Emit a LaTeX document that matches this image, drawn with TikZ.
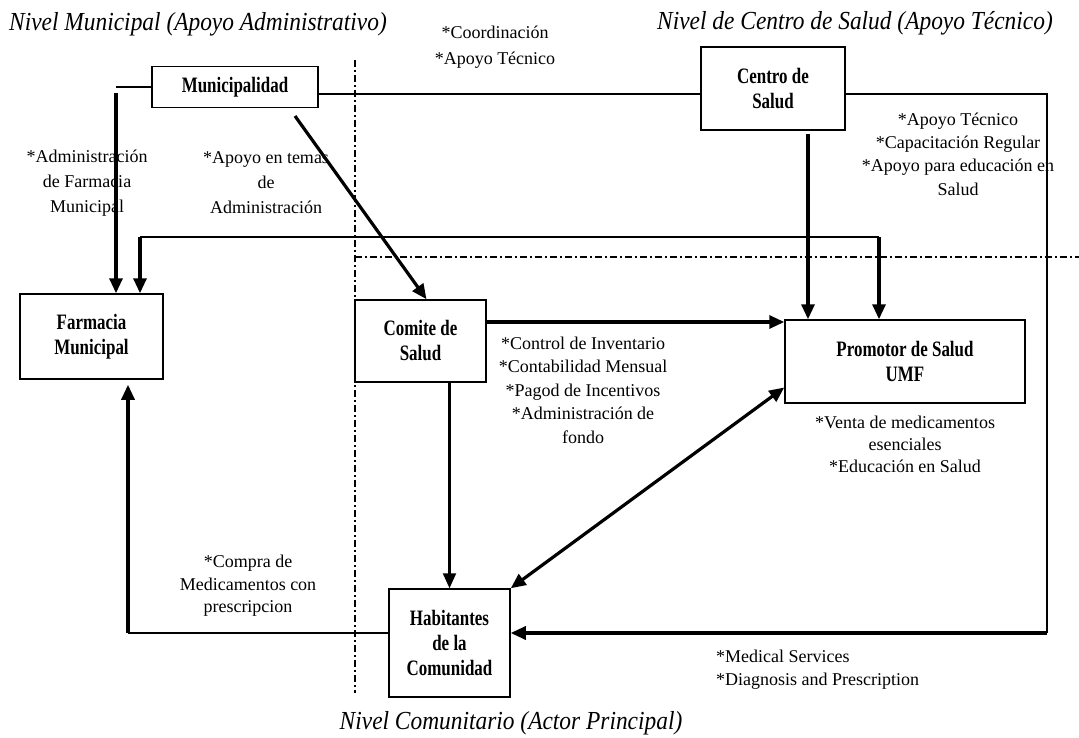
\documentclass[tikz,border=0pt]{standalone}
\usepackage{fontspec}
\setmainfont{Liberation Serif}
\newfontfamily\boxfont[FakeStretch=0.77]{Liberation Serif}
\newfontfamily\ttlfont[FakeStretch=0.9]{Liberation Serif}
\usetikzlibrary{arrows.meta}
\begin{document}
\begin{tikzpicture}[x=1pt,y=-1pt,
  box/.style={draw, line width=1.5pt, inner sep=0pt, align=center, font=\boxfont\fontsize{22}{25}\selectfont\bfseries},
  lbl/.style={align=center, inner sep=0pt, font=\fontsize{18}{#1}\selectfont},
  lbl/.default=24,
  ttl/.style={inner sep=0pt, anchor=base, font=\ttlfont\fontsize{26}{30}\selectfont\itshape},
  thinln/.style={line width=1.5pt},
  tip/.tip={Triangle[length=15pt,width=13pt]},
  arr/.style={line width=3.2pt, -tip},
  arrm/.style={line width=2.2pt, -tip},
  dd/.style={line width=2pt, dash pattern=on 7pt off 3pt on 2pt off 3pt}
]
\useasboundingbox (0,0) rectangle (1079,738);
\fill[white] (0,0) rectangle (1079,738);

% titles
\node[ttl] (t1) at (198,31) {Nivel Municipal (Apoyo Administrativo)};
\node[ttl] (t2) at (855,30) {Nivel de Centro de Salud (Apoyo Técnico)};
\node[ttl] (t3) at (511,729) {Nivel Comunitario (Actor Principal)};

% dash-dot separators
\coordinate (dv1) at (355,60);
\coordinate (dv2) at (355,693);
\coordinate (dh1) at (355,257);
\coordinate (dh2) at (1079,257);
\draw[dd] (dv1) -- (dv2);
\draw[dd] (dh1) -- (dh2);

% boxes
\node[box, minimum width=166pt, minimum height=41pt] (muni) at (235,87) {Municipalidad};
\node[box, minimum width=144pt, minimum height=83pt] (centro) at (773,88.5) {Centro de\\Salud};
\node[box, minimum width=143pt, minimum height=85pt] (farm) at (91.5,336.5) {Farmacia\\Municipal};
\node[box, minimum width=131pt, minimum height=82pt] (comite) at (420.5,341) {Comite de\\Salud};
\node[box, minimum width=240pt, minimum height=83pt] (prom) at (905,361.5) {Promotor de Salud\\UMF};
\node[box, minimum width=121pt, minimum height=108pt] (hab) at (449.5,643) {Habitantes\\de la\\Comunidad};

% labels
\node[lbl=26] (l1) at (495,46.7) {*Coordinación\\*Apoyo Técnico};
\node[lbl=25] (l2) at (87,183) {*Administración\\de Farmacia\\Municipal};
\node[lbl=25] (l3) at (266,183) {*Apoyo en temas\\de\\Administración};
\node[lbl=23.3] (l4) at (958,154) {*Apoyo Técnico\\*Capacitación Regular\\*Apoyo para educación en\\Salud};
\node[lbl=23.5] (l5) at (583,390) {*Control de Inventario\\*Contabilidad Mensual\\*Pagod de Incentivos\\*Administración de\\fondo};
\node[lbl=22] (l6) at (905,444) {*Venta de medicamentos\\esenciales\\*Educación en Salud};
\node[lbl=22.5] (l7) at (248,586) {*Compra de\\Medicamentos con\\prescripcion};
\node[lbl=23, align=left, anchor=west] (l8) at (716,669.5) {*Medical Services\\*Diagnosis and Prescription};

% Municipalidad -> Farmacia
\coordinate (a1) at (116,87);
\draw[thinln] (muni.west) -- (a1);
\draw[arr] ([yshift=-6pt]a1) -- (a1 |- farm.north);

% Farmacia <-> Promotor via line at y=237
\coordinate (h1) at (140,237);
\coordinate (h2) at (879,237);
\draw[thinln] (h1) -- (h2);
\draw[arr] (h1) -- (h1 |- farm.north);
\draw[arr] (h2) -- (h2 |- prom.north);

% Municipalidad -- Centro de Salud, and loop to Habitantes
\coordinate (r1) at (1047,94);
\coordinate (r2) at (1047,633);
\draw[thinln] (muni.east |- r1) -- (centro.west |- r1);
\draw[thinln] (centro.east |- r1) -- (r1) -- (r2);
\draw[arr] (r2) -- (r2 -| hab.east);

% Centro de Salud -> Promotor
\coordinate (c1) at (808,134);
\draw[arr] (c1) -- (c1 |- prom.north);

% Municipalidad -> Comite
\coordinate (m1) at (295,116);
\draw[arr] (m1) -- ([xshift=6pt]comite.north);

% Comite -> Promotor
\coordinate (k1) at (486,322);
\draw[arr] (comite.east |- k1) -- (prom.west |- k1);

% Comite -> Habitantes
\draw[arrm] (hab.north |- comite.south) -- (hab.north);

% Habitantes <-> Promotor
\draw[line width=3.2pt, tip-tip] (hab.north east) -- ([yshift=-26pt]prom.west);

% Habitantes -> Farmacia
\coordinate (f1) at (128,633);
\draw[line width=1.8pt] (hab.west |- f1) -- (f1);
\draw[arr, shorten >=5pt] (f1) -- (f1 |- farm.south);
\end{tikzpicture}
\end{document}
